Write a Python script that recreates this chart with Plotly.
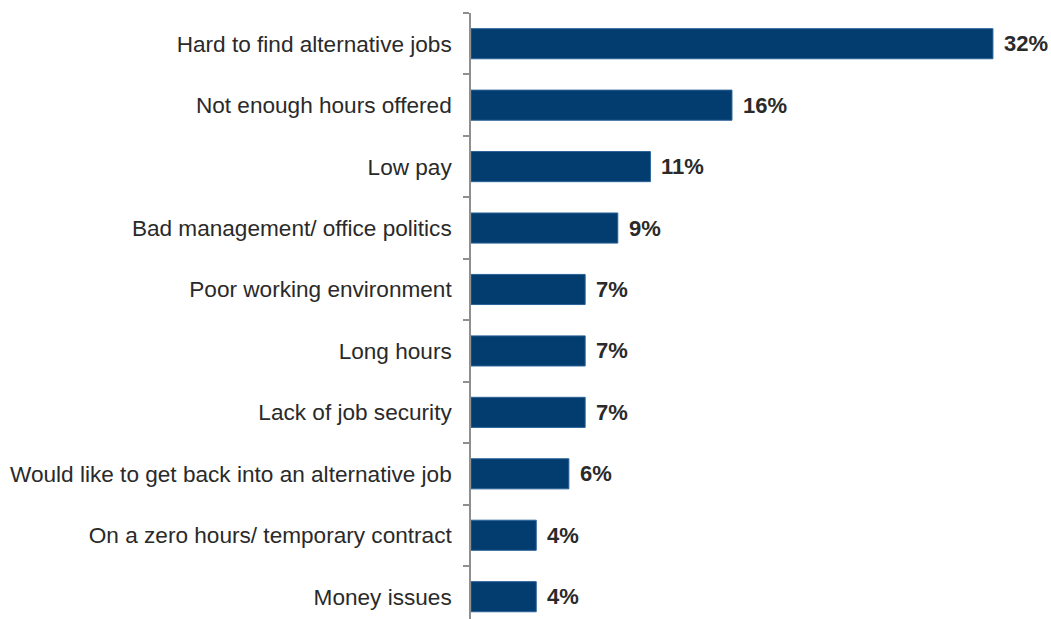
import plotly.graph_objects as go

# Reasons, listed top to bottom, with their share of respondents (%)
reasons = [
    "Hard to find alternative jobs",
    "Not enough hours offered",
    "Low pay",
    "Bad management/ office politics",
    "Poor working environment",
    "Long hours",
    "Lack of job security",
    "Would like to get back into an alternative job",
    "On a zero hours/ temporary contract",
    "Money issues",
]
shares = [32, 16, 11, 9, 7, 7, 7, 6, 4, 4]

# Plotly stacks categories bottom-up, so reverse for a top-down list
cats = reasons[::-1]
vals = shares[::-1]

BAR = "#033d70"
TEXT = "#2a2a2a"
AXIS = "#8f8f8f"
FONT = "Liberation Sans, Arial, sans-serif"

fig = go.Figure(
    go.Bar(
        x=vals,
        y=cats,
        orientation="h",
        width=0.49,
        marker=dict(color=BAR, line=dict(color="#2a6298", width=1)),
        hoverinfo="skip",
    )
)

for c, v in zip(cats, vals):
    fig.add_annotation(
        x=v, y=c, text=f"<b>{v}%</b>", showarrow=False,
        xanchor="left", yanchor="middle", xshift=9,
        font=dict(family=FONT, size=22, color=TEXT),
    )

fig.update_layout(
    width=1051,
    height=619,
    margin=dict(l=471, r=0, t=13, b=0),
    paper_bgcolor="white",
    plot_bgcolor="white",
    showlegend=False,
    font=dict(family=FONT, size=22, color=TEXT),
)

fig.update_xaxes(
    range=[0, 35.56],
    visible=False,
    showgrid=False,
    zeroline=False,
)

fig.update_yaxes(
    type="category",
    categoryorder="array",
    categoryarray=cats,
    range=[-0.363, 9.5],
    showline=True,
    linecolor=AXIS,
    linewidth=1.5,
    ticks="outside",
    tickson="boundaries",
    ticklen=6,
    tickcolor=AXIS,
    tickwidth=1.5,
    ticklabelstandoff=13,
    showgrid=False,
    zeroline=False,
    tickfont=dict(family=FONT, size=22.6, color=TEXT),
)

fig.write_html("out.html")
